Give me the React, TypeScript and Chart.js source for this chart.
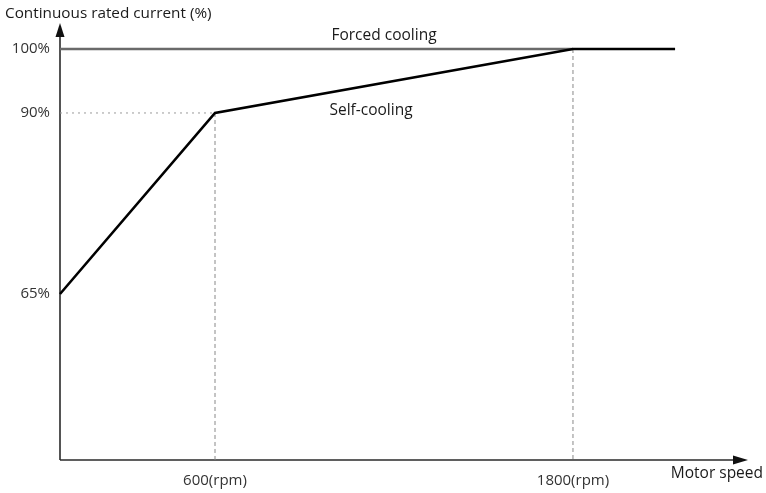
import React, { useEffect, useRef } from "react";
import { Chart, registerables, LinearScale } from "chart.js";

// ---- data ----
const selfCoolingSpeed = [0, 600, 1800, 2150];
const selfCoolingCurrent = [65, 90, 100, 100];
const forcedCoolingSpeed = [0, 1800];
const forcedCoolingCurrent = [100, 100];
const yTickValues = [100, 90, 65];
const yTickLabels = ["100%", "90%", "65%"];
const xTickValues = [600, 1800];
const xTickLabels = ["600(rpm)", "1800(rpm)"];
const yAxisTitle = "Continuous rated current (%)";
const xAxisTitle = "Motor speed";
const forcedLabel = "Forced cooling";
const selfLabel = "Self-cooling";

// schematic (non-linear) axis: value -> fraction of axis
const X_KNOTS: number[][] = [[0, 0], [600, 0.2253], [1800, 0.7456], [2400, 1]];
const Y_KNOTS: number[][] = [[42, 0], [65, 0.3799], [90, 0.7941], [100, 0.9405], [104, 1]];
const Y_MIN = 42;

function mapKnots(knots: number[][], v: number) {
  for (let i = 0; i < knots.length - 1; i++) {
    const [v0, f0] = knots[i];
    const [v1, f1] = knots[i + 1];
    if (v <= v1 || i === knots.length - 2) {
      return f0 + ((v - v0) / (v1 - v0)) * (f1 - f0);
    }
  }
  return 0;
}
function unmapKnots(knots: number[][], f: number) {
  for (let i = 0; i < knots.length - 1; i++) {
    const [v0, f0] = knots[i];
    const [v1, f1] = knots[i + 1];
    if (f <= f1 || i === knots.length - 2) {
      return v0 + ((f - f0) / (f1 - f0)) * (v1 - v0);
    }
  }
  return 0;
}

class PiecewiseScale extends LinearScale {
  static id = "piecewise";
  static defaults = { ...(LinearScale as any).defaults };
  knots() {
    return (this as any).axis === "x" ? X_KNOTS : Y_KNOTS;
  }
  getPixelForValue(value: number) {
    if (value === null || value === undefined || isNaN(value)) return NaN;
    return (this as any).getPixelForDecimal(mapKnots(this.knots(), value));
  }
  getValueForPixel(pixel: number) {
    return unmapKnots(this.knots(), (this as any).getDecimalForPixel(pixel));
  }
}

Chart.register(...registerables, PiecewiseScale as any);

const FONT = "'Open Sans', 'Noto Sans', sans-serif";

const drawPlugin = {
  id: "schematic",
  beforeDatasetsDraw(chart: any) {
    const { ctx, chartArea } = chart;
    const { left, right, bottom } = chartArea;
    ctx.save();
    ctx.strokeStyle = "#2a2a2a";
    ctx.fillStyle = "#111";
    ctx.lineWidth = 1.6;
    // y axis
    ctx.beginPath();
    ctx.moveTo(left, bottom);
    ctx.lineTo(left, chartArea.top + 8);
    ctx.stroke();
    ctx.beginPath();
    ctx.moveTo(left, chartArea.top);
    ctx.lineTo(left - 4.5, chartArea.top + 14);
    ctx.lineTo(left + 4.5, chartArea.top + 14);
    ctx.closePath();
    ctx.fill();
    // x axis
    ctx.beginPath();
    ctx.moveTo(left, bottom);
    ctx.lineTo(right - 8, bottom);
    ctx.stroke();
    ctx.beginPath();
    ctx.moveTo(right, bottom);
    ctx.lineTo(right - 15, bottom - 4.5);
    ctx.lineTo(right - 15, bottom + 4.5);
    ctx.closePath();
    ctx.fill();
    ctx.restore();
  },
  afterDraw(chart: any) {
    const { ctx, chartArea, scales } = chart;
    ctx.save();
    ctx.textBaseline = "middle";
    ctx.font = `15.3px ${FONT}`;
    ctx.fillStyle = "#1a1a1a";
    ctx.textAlign = "left";
    ctx.fillText(yAxisTitle, 5, 14);
    ctx.font = `15px ${FONT}`;
    ctx.fillStyle = "#333";
    ctx.textAlign = "right";
    yTickValues.forEach((v, i) => {
      ctx.fillText(yTickLabels[i], chartArea.left - 10, scales.y.getPixelForValue(v));
    });
    ctx.textAlign = "center";
    xTickValues.forEach((v, i) => {
      ctx.fillText(xTickLabels[i], scales.x.getPixelForValue(v), 481);
    });
    ctx.font = `15.5px ${FONT}`;
    ctx.fillStyle = "#1a1a1a";
    ctx.textAlign = "right";
    ctx.fillText(xAxisTitle, 763, 474);
    ctx.textAlign = "center";
    ctx.fillText(forcedLabel, 384, 36);
    ctx.fillText(selfLabel, 371, 111);
    ctx.restore();
  },
};

export default function App() {
  const ref = useRef<HTMLCanvasElement>(null);
  useEffect(() => {
    document.body.style.margin = "0";
    const canvas = ref.current!;
    const toPts = (xs: number[], ys: number[]) => xs.map((x, i) => ({ x, y: ys[i] }));
    const chart = new Chart(canvas, {
      type: "line",
      data: {
        datasets: [
          {
            data: toPts(selfCoolingSpeed, selfCoolingCurrent),
            borderColor: "#000",
            borderWidth: 2.6,
            pointRadius: 0,
            clip: false as any,
            tension: 0,
          },
          {
            data: toPts(forcedCoolingSpeed, forcedCoolingCurrent),
            borderColor: "#6a6a6a",
            borderWidth: 2.4,
            pointRadius: 0,
            clip: false as any,
          },
          {
            data: toPts([0, selfCoolingSpeed[1]], [selfCoolingCurrent[1], selfCoolingCurrent[1]]),
            borderColor: "#999",
            borderWidth: 1,
            borderDash: [2, 4],
            pointRadius: 0,
            clip: false as any,
          },
          {
            data: toPts([selfCoolingSpeed[1], selfCoolingSpeed[1]], [selfCoolingCurrent[1], Y_MIN]),
            borderColor: "#888",
            borderWidth: 1,
            borderDash: [4, 3],
            pointRadius: 0,
            clip: false as any,
          },
          {
            data: toPts([selfCoolingSpeed[2], selfCoolingSpeed[2]], [selfCoolingCurrent[2], Y_MIN]),
            borderColor: "#888",
            borderWidth: 1,
            borderDash: [4, 3],
            pointRadius: 0,
            clip: false as any,
          },
        ],
      },
      options: {
        animation: false,
        responsive: false,
        devicePixelRatio: 1,
        layout: { padding: { left: 60, right: 18, top: 23, bottom: 33 } },
        plugins: { legend: { display: false }, tooltip: { enabled: false } },
        scales: {
          x: { type: "piecewise" as any, min: 0, max: 2400, display: false },
          y: { type: "piecewise" as any, min: Y_MIN, max: 104, display: false },
        },
      },
      plugins: [drawPlugin],
    });
    return () => chart.destroy();
  }, []);
  return (
    <div style={{ position: "absolute", left: 0, top: 0, width: 766, height: 493, background: "#fff" }}>
      <canvas ref={ref} width={766} height={493} style={{ width: 766, height: 493 }} />
    </div>
  );
}
